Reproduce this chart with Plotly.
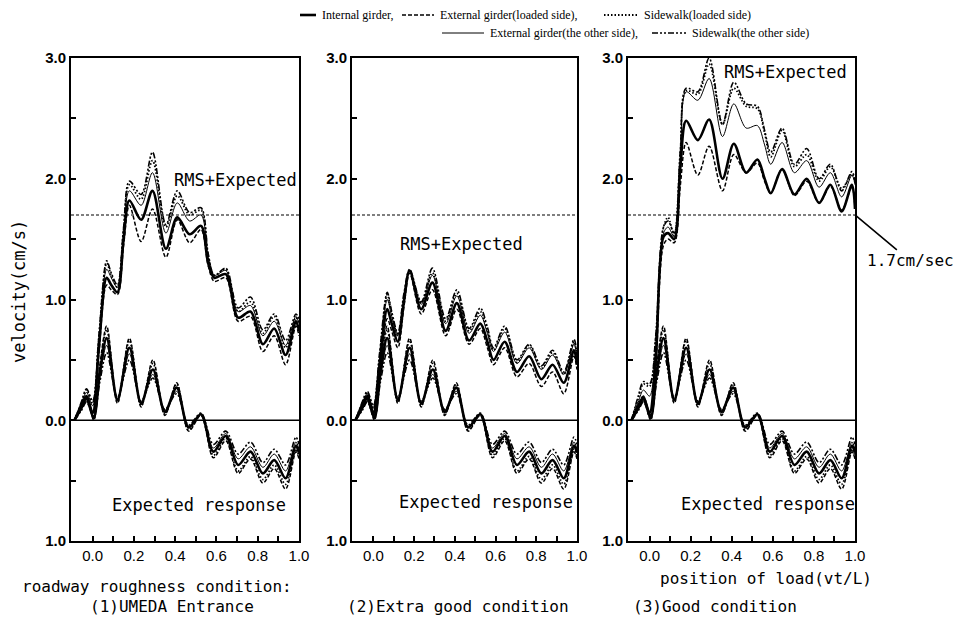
import plotly.graph_objects as go

# ---------------- data ----------------
SERIES = ["Internal girder", "External girder(loaded side)", "Sidewalk(loaded side)",
          "External girder(the other side)", "Sidewalk(the other side)"]

X_RMS = [-0.088, -0.055, -0.03, 0.0, 0.03, 0.068, 0.09, 0.12, 0.15, 0.178, 0.235, 0.29, 0.355,
         0.41, 0.47, 0.525, 0.56, 0.59, 0.645, 0.705, 0.765, 0.825, 0.88, 0.935, 0.985, 1.0]

# (1) UMEDA Entrance : RMS + Expected
P1_INTERNAL = [0, 0.12, 0.2, 0.06, 0.6, 1.18, 1.12, 1.06, 1.5, 1.82, 1.66, 1.9, 1.42, 1.68, 1.54, 1.61, 1.3, 1.18, 1.21, 0.85, 0.9, 0.63, 0.76, 0.54, 0.82, 0.74]
P1_EXT_LOADED = [0, 0.1, 0.18, 0.03, 0.55, 1.12, 1.08, 1.04, 1.45, 1.78, 1.48, 1.75, 1.35, 1.66, 1.47, 1.58, 1.28, 1.15, 1.18, 0.82, 0.86, 0.57, 0.7, 0.46, 0.78, 0.7]
P1_SIDE_LOADED = [0, 0.14, 0.25, 0.14, 0.68, 1.3, 1.2, 1.1, 1.58, 1.95, 1.83, 2.15, 1.6, 1.86, 1.7, 1.74, 1.36, 1.2, 1.25, 0.9, 0.98, 0.72, 0.86, 0.6, 0.85, 0.8]
P1_EXT_OTHER = [0, 0.14, 0.23, 0.12, 0.65, 1.25, 1.18, 1.1, 1.55, 1.9, 1.78, 2.05, 1.55, 1.8, 1.65, 1.7, 1.35, 1.2, 1.24, 0.9, 0.95, 0.7, 0.82, 0.62, 0.86, 0.8]
P1_SIDE_OTHER = [0, 0.15, 0.26, 0.16, 0.7, 1.32, 1.22, 1.12, 1.6, 1.98, 1.87, 2.22, 1.62, 1.9, 1.72, 1.76, 1.38, 1.2, 1.26, 0.93, 1.02, 0.75, 0.88, 0.66, 0.88, 0.84]

# (2) Extra good condition : RMS + Expected
P2_INTERNAL = [0, 0.12, 0.2, 0.06, 0.45, 0.92, 0.8, 0.65, 0.98, 1.24, 0.92, 1.14, 0.74, 0.97, 0.66, 0.8, 0.65, 0.5, 0.65, 0.4, 0.53, 0.34, 0.46, 0.31, 0.58, 0.46]
P2_EXT_LOADED = [0, 0.1, 0.17, 0.03, 0.4, 0.84, 0.74, 0.6, 0.94, 1.22, 0.88, 1.08, 0.7, 0.92, 0.63, 0.76, 0.6, 0.46, 0.6, 0.36, 0.47, 0.28, 0.4, 0.22, 0.53, 0.42]
P2_SIDE_LOADED = [0, 0.14, 0.23, 0.1, 0.52, 1.04, 0.88, 0.7, 1.03, 1.24, 0.97, 1.22, 0.82, 1.05, 0.74, 0.9, 0.74, 0.58, 0.76, 0.48, 0.62, 0.43, 0.56, 0.38, 0.65, 0.53]
P2_EXT_OTHER = [0, 0.14, 0.22, 0.1, 0.5, 1.0, 0.86, 0.7, 1.02, 1.24, 0.96, 1.2, 0.8, 1.03, 0.72, 0.87, 0.72, 0.57, 0.73, 0.47, 0.6, 0.42, 0.54, 0.38, 0.63, 0.52]
P2_SIDE_OTHER = [0, 0.15, 0.24, 0.12, 0.55, 1.06, 0.9, 0.72, 1.05, 1.25, 0.98, 1.26, 0.84, 1.08, 0.76, 0.93, 0.77, 0.6, 0.78, 0.5, 0.63, 0.45, 0.58, 0.4, 0.67, 0.55]

# (3) Good condition : RMS + Expected
P3_INTERNAL = [0, 0.12, 0.19, 0.06, 0.5, 1.52, 1.55, 1.5, 2.1, 2.48, 2.32, 2.49, 2.0, 2.29, 2.05, 2.16, 2.0, 1.88, 2.08, 1.87, 2.0, 1.8, 1.95, 1.73, 1.95, 1.75]
P3_EXT_LOADED = [0, 0.1, 0.17, 0.03, 0.45, 1.45, 1.5, 1.47, 1.95, 2.3, 2.03, 2.27, 1.9, 2.2, 2.05, 2.13, 1.98, 1.88, 2.08, 1.86, 1.98, 1.8, 1.94, 1.74, 1.93, 1.75]
P3_SIDE_LOADED = [0, 0.18, 0.3, 0.28, 0.68, 1.6, 1.68, 1.53, 2.22, 2.73, 2.7, 2.95, 2.45, 2.75, 2.6, 2.58, 2.38, 2.18, 2.4, 2.1, 2.2, 1.98, 2.1, 1.92, 2.04, 1.97]
P3_EXT_OTHER = [0, 0.15, 0.25, 0.2, 0.6, 1.55, 1.6, 1.52, 2.2, 2.72, 2.65, 2.83, 2.35, 2.62, 2.42, 2.44, 2.28, 2.12, 2.3, 2.05, 2.15, 1.93, 2.05, 1.85, 2.03, 1.95]
P3_SIDE_OTHER = [0, 0.2, 0.32, 0.3, 0.7, 1.6, 1.65, 1.55, 2.25, 2.75, 2.72, 3.0, 2.45, 2.8, 2.62, 2.6, 2.4, 2.22, 2.42, 2.12, 2.25, 2.0, 2.12, 1.9, 2.06, 1.98]

# Expected response (same in the three panels)
X_EXP = [-0.088, -0.055, -0.03, 0.005, 0.035, 0.068, 0.12, 0.178, 0.235, 0.292, 0.35, 0.407,
         0.465, 0.525, 0.585, 0.645, 0.705, 0.765, 0.825, 0.88, 0.935, 0.985, 1.0]
EXP_INTERNAL = [0, 0.1, 0.18, 0.02, 0.4, 0.68, 0.17, 0.6, 0.14, 0.42, 0.07, 0.27, -0.06, 0.05, -0.26, -0.13, -0.37, -0.26, -0.44, -0.33, -0.48, -0.21, -0.27]
EXP_EXT_LOADED = [0, 0.12, 0.2, 0.0, 0.46, 0.78, 0.14, 0.68, 0.11, 0.5, 0.04, 0.31, -0.09, 0.04, -0.31, -0.17, -0.44, -0.32, -0.52, -0.4, -0.57, -0.26, -0.32]
EXP_SIDE_LOADED = [0, 0.11, 0.2, 0.01, 0.44, 0.75, 0.15, 0.66, 0.12, 0.47, 0.05, 0.3, -0.08, 0.05, -0.29, -0.15, -0.42, -0.3, -0.49, -0.37, -0.53, -0.24, -0.3]
EXP_EXT_OTHER = [0, 0.09, 0.16, 0.02, 0.36, 0.62, 0.18, 0.55, 0.15, 0.38, 0.08, 0.24, -0.05, 0.05, -0.23, -0.11, -0.32, -0.22, -0.39, -0.28, -0.42, -0.18, -0.24]
EXP_SIDE_OTHER = [0, 0.08, 0.15, 0.03, 0.32, 0.56, 0.19, 0.5, 0.16, 0.35, 0.09, 0.22, -0.04, 0.06, -0.2, -0.09, -0.28, -0.18, -0.35, -0.24, -0.37, -0.14, -0.2]

THRESHOLD = 1.7
PANEL_CAPTIONS = ["(1)UMEDA Entrance", "(2)Extra good condition", "(3)Good condition"]
X_TICKS = [0.0, 0.1, 0.2, 0.3, 0.4, 0.5, 0.6, 0.7, 0.8, 0.9, 1.0]
X_TICKTEXT = ["0.0", "", "0.2", "", "0.4", "", "0.6", "", "0.8", "", "1.0"]
Y_TICKS = [-1.0, -0.5, 0.0, 0.5, 1.0, 1.5, 2.0, 2.5, 3.0]
Y_TICKTEXT = ["1.0", "", "0.0", "", "1.0", "", "2.0", "", "3.0"]

RMS = [
    [P1_INTERNAL, P1_EXT_LOADED, P1_SIDE_LOADED, P1_EXT_OTHER, P1_SIDE_OTHER],
    [P2_INTERNAL, P2_EXT_LOADED, P2_SIDE_LOADED, P2_EXT_OTHER, P2_SIDE_OTHER],
    [P3_INTERNAL, P3_EXT_LOADED, P3_SIDE_LOADED, P3_EXT_OTHER, P3_SIDE_OTHER],
]
EXPECTED = [EXP_INTERNAL, EXP_EXT_LOADED, EXP_SIDE_LOADED, EXP_EXT_OTHER, EXP_SIDE_OTHER]

# ---------------- styles ----------------
STYLE = {
    "Internal girder": dict(width=2.6, dash="solid"),
    "External girder(loaded side)": dict(width=1.5, dash="4px,2px"),
    "Sidewalk(loaded side)": dict(width=1.8, dash="1.5px,2px"),
    "External girder(the other side)": dict(width=1.0, dash="solid"),
    "Sidewalk(the other side)": dict(width=1.6, dash="6px,2px,2px,2px,2px,2px"),
}
DRAW_ORDER = [3, 4, 2, 1, 0]
MONO = "DejaVu Sans Mono"

W, H = 961, 622
X_DOMAINS = [[71 / W, 299 / W], [352 / W, 577 / W], [628 / W, 855 / W]]
Y_DOMAIN = [1 - 541 / H, 1 - 58 / H]

fig = go.Figure()
for p in range(3):
    sfx = "" if p == 0 else str(p + 1)
    for k in DRAW_ORDER:
        name = SERIES[k]
        for xs, ys in ((X_RMS, RMS[p][k]), (X_EXP, EXPECTED[k])):
            fig.add_trace(go.Scatter(
                x=xs, y=ys, mode="lines", name=name, showlegend=False,
                line=dict(color="black", shape="spline", smoothing=0.9, **STYLE[name]),
                xaxis="x" + sfx, yaxis="y" + sfx, hoverinfo="skip"))

axis_common = dict(showline=True, linewidth=2, linecolor="black", mirror=True,
                   showgrid=False, zeroline=False, ticks="inside", tickcolor="black",
                   tickwidth=1.5, automargin=False)
layout = dict(width=W, height=H, margin=dict(l=0, r=0, t=0, b=0, autoexpand=False),
              plot_bgcolor="white", paper_bgcolor="white", showlegend=False)
for p in range(3):
    sfx = "" if p == 0 else str(p + 1)
    layout["xaxis" + sfx] = dict(axis_common, domain=X_DOMAINS[p], range=[-0.105, 1.0],
                                 anchor="y" + sfx, tickvals=X_TICKS, ticktext=X_TICKTEXT,
                                 ticklen=5,
                                 tickfont=dict(family="Liberation Sans", size=15, color="black"))
    layout["yaxis" + sfx] = dict(axis_common, domain=Y_DOMAIN, range=[-1, 3],
                                 anchor="x" + sfx, tickvals=Y_TICKS, ticktext=Y_TICKTEXT,
                                 ticklen=5,
                                 tickfont=dict(family="Liberation Sans", size=15, color="black",
                                               weight="bold"))
fig.update_layout(**layout)

for p in range(3):
    sfx = "" if p == 0 else str(p + 1)
    fig.add_shape(type="line", xref="x" + sfx + " domain", yref="y" + sfx,
                  x0=0, x1=1, y0=THRESHOLD, y1=THRESHOLD,
                  line=dict(color="black", width=1.2, dash="3px,2px"))
    fig.add_shape(type="line", xref="x" + sfx + " domain", yref="y" + sfx,
                  x0=0, x1=1, y0=0, y1=0, line=dict(color="black", width=1.6))

# in-panel labels
RMS_LABEL_POS = [(0.69, 1.99), (0.434, 1.46), (0.66, 2.88)]
EXP_LABEL_POS = [(0.514, -0.70), (0.551, -0.68), (0.575, -0.69)]
for p in range(3):
    sfx = "" if p == 0 else str(p + 1)
    fig.add_annotation(x=RMS_LABEL_POS[p][0], y=RMS_LABEL_POS[p][1], xref="x" + sfx, yref="y" + sfx,
                       text="RMS+Expected", showarrow=False, xanchor="center", yanchor="middle",
                       font=dict(family=MONO, size=17, color="black"))
    fig.add_annotation(x=EXP_LABEL_POS[p][0], y=EXP_LABEL_POS[p][1], xref="x" + sfx, yref="y" + sfx,
                       text="Expected response", showarrow=False, xanchor="center", yanchor="middle",
                       font=dict(family=MONO, size=17, color="black"))

# 1.7 cm/sec pointer
fig.add_annotation(x=1.0, y=THRESHOLD, xref="x3", yref="y3", text="1.7cm/sec",
                   showarrow=True, arrowhead=0, arrowwidth=1.6, arrowcolor="black",
                   ax=55, ay=46, font=dict(family=MONO, size=16, color="black"))

# axis titles / captions
def paper_text(x, y, text, size=16, family=MONO, xanchor="center", angle=0):
    fig.add_annotation(x=x / W, y=1 - y / H, xref="paper", yref="paper", text=text,
                       xanchor=xanchor, yanchor="middle", textangle=angle, showarrow=False,
                       font=dict(family=family, size=size, color="black"))

paper_text(19, 292, "velocity(cm/s)", size=17, angle=-90)
paper_text(20, 586, "roadway roughness condition:", xanchor="left")
paper_text(766, 578, "position of load(vt/L)")
CAPTION_X = [172, 458, 715]
for p in range(3):
    paper_text(CAPTION_X[p], 606, PANEL_CAPTIONS[p])

# legend drawn at the top (two rows)
LEGEND_ROWS = [
    [(0, 300, 316), (1, 402, 434), (2, 604, 638)],
    [(3, 442, 484), (4, 652, 686)],
]
LEGEND_Y = [15, 33]
LEGEND_TEXT = ["Internal girder,", "External girder(loaded side),", "Sidewalk(loaded side)",
               "External girder(the other side),", "Sidewalk(the other side)"]
for r, row in enumerate(LEGEND_ROWS):
    yy = 1 - LEGEND_Y[r] / H
    for k, xa, xb in row:
        st = STYLE[SERIES[k]]
        fig.add_shape(type="line", xref="paper", yref="paper", x0=xa / W, x1=xb / W, y0=yy, y1=yy,
                      line=dict(color="black", width=st["width"], dash=st["dash"]))
        paper_text(xb + 4, LEGEND_Y[r], LEGEND_TEXT[k], size=12, family="Liberation Serif",
                   xanchor="left")

fig.write_html("out.html", config={"displayModeBar": False},
               post_script="document.body.style.margin='0';document.body.style.overflow='hidden';")
